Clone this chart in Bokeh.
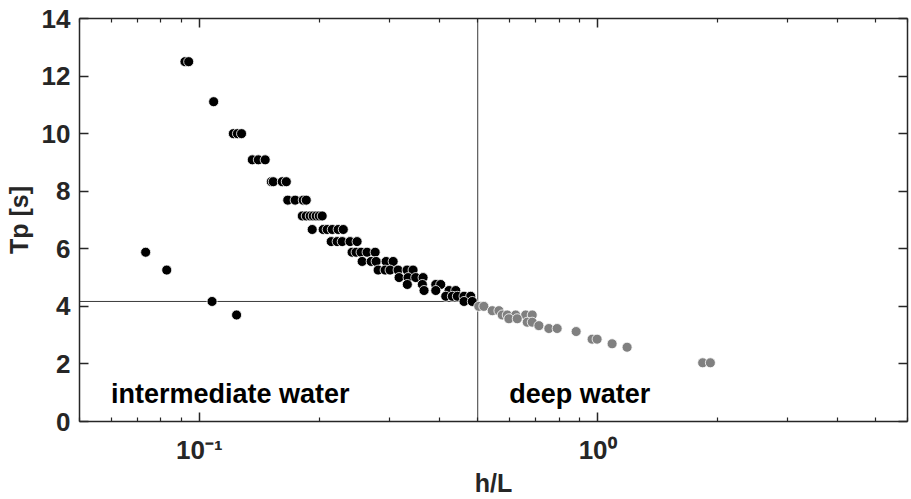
from bokeh.plotting import figure
from bokeh.models import (FixedTicker, LogAxis, LinearAxis, CustomJSTickFormatter,
                          Label, Range1d, ColumnDataSource)
from bokeh.embed import file_html
from bokeh.resources import INLINE

# ---- data ----
hl_intermediate = [0.0733, 0.0828, 0.1076, 0.124,
                   0.092, 0.094,
                   0.1086,
                   0.1217, 0.1246, 0.1276,
                   0.1358, 0.1406, 0.1463,
                   0.1516, 0.1533, 0.1615, 0.1653,
                   0.1667, 0.174, 0.1823, 0.1855,
                   0.1813, 0.1855, 0.1898, 0.1931, 0.1965, 0.200, 0.2034,
                   0.1920, 0.2046, 0.2094, 0.2156, 0.2231, 0.2298,
                   0.2143, 0.2218, 0.2284, 0.239, 0.2489,
                   0.2418, 0.2475, 0.2547, 0.2637, 0.2763,
                   0.2563, 0.2700, 0.2779, 0.2944, 0.3066,
                   0.2811, 0.2927, 0.3012, 0.3155, 0.3323, 0.3440,
                   0.3173, 0.3342, 0.3494, 0.3645,
                   0.3328, 0.3630, 0.3923, 0.4037,
                   0.3666, 0.3923, 0.4236, 0.4403,
                   0.4156, 0.4317, 0.4444, 0.4619, 0.4801,
                   0.4619, 0.4845]
tp_intermediate = [5.88, 5.26, 4.17, 3.70,
                   12.5, 12.5,
                   11.11,
                   10.0, 10.0, 10.0,
                   9.09, 9.09, 9.09,
                   8.33, 8.33, 8.33, 8.33,
                   7.69, 7.69, 7.69, 7.69,
                   7.14, 7.14, 7.14, 7.14, 7.14, 7.14, 7.14,
                   6.67, 6.67, 6.67, 6.67, 6.67, 6.67,
                   6.25, 6.25, 6.25, 6.25, 6.25,
                   5.88, 5.88, 5.88, 5.88, 5.88,
                   5.56, 5.56, 5.56, 5.56, 5.56,
                   5.26, 5.26, 5.26, 5.26, 5.26, 5.26,
                   5.0, 5.0, 5.0, 5.0,
                   4.76, 4.76, 4.76, 4.76,
                   4.55, 4.55, 4.55, 4.55,
                   4.35, 4.35, 4.35, 4.35, 4.35,
                   4.17, 4.17]

hl_deep = [0.503, 0.518, 0.5438, 0.5652, 0.5761, 0.5930, 0.6225, 0.6596, 0.6852,
           0.5987, 0.6283, 0.6657, 0.6852, 0.7121, 0.7543, 0.7914, 0.8833,
           0.9687, 0.997, 1.0874, 1.1858, 1.8357, 1.9192]
tp_deep = [4.0, 4.0, 3.85, 3.85, 3.70, 3.70, 3.70, 3.70, 3.70,
           3.57, 3.57, 3.45, 3.45, 3.33, 3.23, 3.23, 3.125,
           2.86, 2.86, 2.70, 2.58, 2.04, 2.04]

deep_limit_hl = 0.5
limit_tp = 4.17
x_limits = [0.05, 6.0]
y_limits = [0, 14]
y_ticks = [0, 2, 4, 6, 8, 10, 12, 14]
x_major = [0.1, 1.0]
x_minor = [0.05, 0.06, 0.07, 0.08, 0.09, 0.2, 0.3, 0.4, 0.5, 0.6, 0.7, 0.8, 0.9,
           2, 3, 4, 5, 6]

FONT = "Liberation Sans"
AX = "#262626"

p = figure(width=911, height=499, x_axis_type="log",
           x_range=Range1d(*x_limits), y_range=Range1d(*y_limits),
           output_backend="svg", toolbar_location=None,
           min_border_left=79, min_border_right=4, min_border_top=18,
           min_border_bottom=78)
p.grid.visible = False
p.outline_line_color = None
p.background_fill_color = "white"
p.border_fill_color = "white"

fmt = CustomJSTickFormatter(code="""
const e = Math.round(Math.log10(tick));
const sup = {'-':'\\u207b','0':'\\u2070','1':'\\u00b9','2':'\\u00b2','3':'\\u00b3','4':'\\u2074','5':'\\u2075','6':'\\u2076','7':'\\u2077','8':'\\u2078','9':'\\u2079'};
return '10' + String(e).split('').map(c => sup[c]).join('');
""")

xt = FixedTicker(ticks=x_major, minor_ticks=x_minor)
yt = FixedTicker(ticks=y_ticks, minor_ticks=[])

def style(ax, labels=True):
    ax.axis_line_color = AX
    ax.axis_line_width = 1.5
    ax.major_tick_line_color = AX
    ax.minor_tick_line_color = AX
    ax.major_tick_line_width = 1.5
    ax.minor_tick_line_width = 1.2
    ax.major_tick_in = 9
    ax.major_tick_out = 0
    ax.minor_tick_in = 4
    ax.minor_tick_out = 0
    if labels:
        ax.major_label_text_font = FONT
        ax.major_label_text_font_style = "bold"
        ax.major_label_text_font_size = "26px"
        ax.major_label_text_color = AX
        ax.axis_label_text_font = FONT
        ax.axis_label_text_font_style = "bold"
        ax.axis_label_text_font_size = "25px"
        ax.axis_label_text_color = AX
    else:
        ax.major_label_text_font_size = "1px"
        ax.major_label_text_color = None
        ax.major_label_standoff = 0

xa = p.xaxis[0]
xa.ticker = xt
xa.formatter = fmt
xa.axis_label = "h/L"
style(xa)
xa.major_label_standoff = 13
xa.axis_label_standoff = 1

ya = p.yaxis[0]
ya.ticker = yt
ya.axis_label = "Tp [s]"
style(ya)
ya.major_label_standoff = 9
ya.axis_label_standoff = 6

top = LogAxis(ticker=FixedTicker(ticks=x_major, minor_ticks=x_minor))
style(top, labels=False)
p.add_layout(top, "above")
right = LinearAxis(ticker=FixedTicker(ticks=y_ticks, minor_ticks=[]))
style(right, labels=False)
p.add_layout(right, "right")

# reference lines
p.line(x=[deep_limit_hl, deep_limit_hl], y=y_limits, line_color="#3a3a3a", line_width=1)
p.line(x=[x_limits[0], deep_limit_hl], y=[limit_tp, limit_tp], line_color="#3a3a3a", line_width=1)

src_i = ColumnDataSource(dict(x=hl_intermediate, y=tp_intermediate))
src_d = ColumnDataSource(dict(x=hl_deep, y=tp_deep))
p.scatter("x", "y", source=src_i, size=10, fill_color="black",
          line_color="white", line_width=0.8)
p.scatter("x", "y", source=src_d, size=10, fill_color="#808080",
          line_color="white", line_width=0.8)

for txt, xx in [("intermediate water", 0.06), ("deep water", 0.6)]:
    p.add_layout(Label(x=xx, y=0.95, text=txt, text_font=FONT,
                       text_font_style="bold", text_font_size="27px",
                       text_color="black", text_baseline="middle"))

open("out.html", "w").write(file_html(p, INLINE))
